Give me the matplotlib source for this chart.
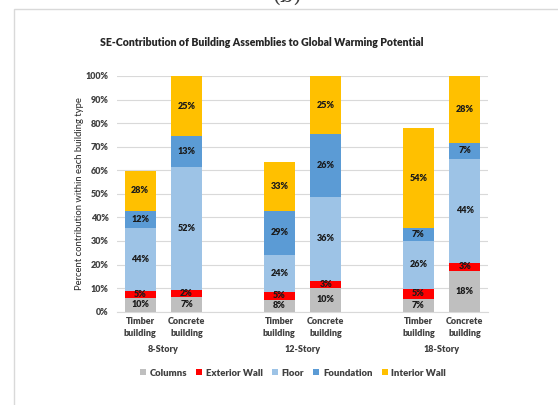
import matplotlib
matplotlib.use("Agg")
import matplotlib.pyplot as plt
from matplotlib.patches import Rectangle
import numpy as np

plt.rcParams['font.family'] = ['Lato', 'DejaVu Sans']

bar_labels = ["Timber\nbuilding", "Concrete\nbuilding"] * 3
groups = ["8-Story", "12-Story", "18-Story"]
series = ["Columns", "Exterior Wall", "Floor", "Foundation", "Interior Wall"]
colors = ["#BFBFBF", "#FF0000", "#9DC3E6", "#5B9BD5", "#FFC000"]

# segment heights (percent of concrete building total)
columns = [5.7, 6.4, 5.0, 10.1, 5.5, 17.4]
exterior = [3.1, 2.7, 3.5, 2.8, 4.3, 3.4]
floor = [26.8, 52.3, 15.7, 35.9, 20.2, 44.0]
foundation = [7.3, 13.0, 18.5, 26.5, 5.4, 6.9]
interior = [16.9, 25.6, 20.9, 24.7, 42.5, 28.3]

# printed labels (share within each building)
lab_columns = ["10%", "7%", "8%", "10%", "7%", "18%"]
lab_exterior = ["5%", "2%", "5%", "3%", "5%", "3%"]
lab_floor = ["44%", "52%", "24%", "36%", "26%", "44%"]
lab_foundation = ["12%", "13%", "29%", "26%", "7%", "7%"]
lab_interior = ["28%", "25%", "33%", "25%", "54%", "28%"]

data = [columns, exterior, floor, foundation, interior]
labs = [lab_columns, lab_exterior, lab_floor, lab_foundation, lab_interior]

x = np.array([0, 1, 3, 4, 6, 7], dtype=float)
W, H = 558, 405
fig = plt.figure(figsize=(W / 100, H / 100), dpi=100)
ax = fig.add_axes([117 / W, 1 - 311.7 / H, (488 - 117) / W, (311.7 - 76) / H])

bottom = np.zeros(len(x))
for vals, lab, col, name in zip(data, labs, colors, series):
    vals = np.array(vals)
    ax.bar(x, vals, bottom=bottom, width=0.67, color=col, label=name, zorder=3)
    for xi, b, v, t in zip(x, bottom, vals, lab):
        ax.text(xi, b + v / 2, t, ha='center', va='center', fontsize=6.5,
                fontweight='heavy', color='#1a1a1a', zorder=4)
    bottom += vals

ax.set_xlim(-0.5, 7.5)
ax.set_ylim(0, 100)
ax.set_yticks(np.arange(0, 101, 10))
ax.set_yticklabels([f"{v}%" for v in range(0, 101, 10)], fontsize=6.5,
                   fontweight='heavy', color='#404040')
ax.yaxis.grid(True, color='#D9D9D9', linewidth=0.8, zorder=0)
ax.tick_params(axis='y', length=0, pad=6)
ax.tick_params(axis='x', length=0, pad=4)
ax.set_xticks(x)
ax.set_xticklabels(bar_labels, fontsize=6.5, fontweight='heavy', color='#404040',
                   linespacing=1.4)
for s in ['top', 'right', 'left']:
    ax.spines[s].set_visible(False)
ax.spines['bottom'].set_color('#D9D9D9')
ax.set_ylabel("Percent contribution within each building type", fontsize=6.8,
              color='#262626', labelpad=1)

for gx, g in zip([0.5, 3.5, 6.5], groups):
    ax.text(gx, -16.0, g, ha='center', va='center', fontsize=6.5,
            fontweight='heavy', color='#404040', transform=ax.transData, clip_on=False)

fig.text(100 / W, 1 - 43 / H, "SE-Contribution of Building Assemblies to Global Warming Potential",
         fontsize=7.6, fontweight='heavy', color='#262626', ha='left', va='center')

leg = fig.legend(loc='center', bbox_to_anchor=(293 / W, 1 - 373 / H), ncol=5,
                 frameon=False, handlelength=0.6, handleheight=0.6,
                 handletextpad=0.4, columnspacing=1.0, prop={'weight': 'heavy', 'size': 6.8})
for t in leg.get_texts():
    t.set_color('#404040')

# outer chart border
fig.add_artist(Rectangle((14 / W, -0.1), 1.2, 1 - 9 / H + 0.1, transform=fig.transFigure,
                         fill=False, edgecolor='#D9D9D9', linewidth=1.0))
# cut-off panel label (partly outside the image, as in the source)
fig.text(287 / W, 1 - 2 / H, "(b)", fontsize=15, family='DejaVu Serif',
         ha='center', va='baseline', color='#404040')

fig.savefig("out.png", dpi=100)
